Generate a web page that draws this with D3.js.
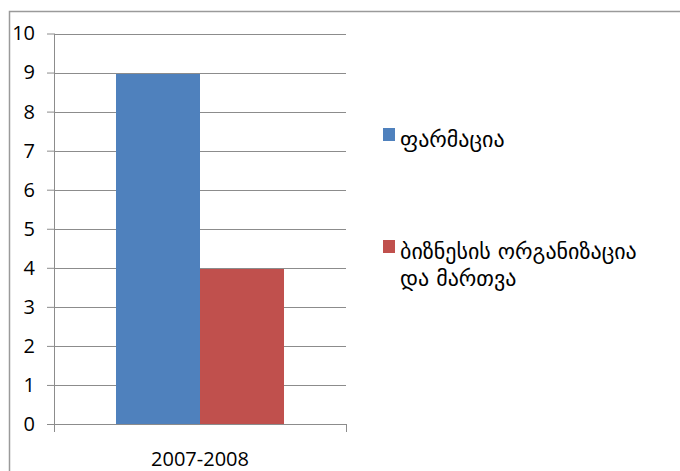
<!DOCTYPE html>
<html>
<head>
<meta charset="utf-8">
<script src="https://cdn.jsdelivr.net/npm/d3@7"></script>
<style>
  body { margin: 0; background: #fff; }
  svg { display: block; }
</style>
</head>
<body>
<div id="chart"></div>
<script>
// Chart data
const categories = ['2007-2008'];
const seriesNames = ['ფარმაცია', 'ბიზნესის ორგანიზაცია და მართვა'];
const seriesLabelLines = [['ფარმაცია'], ['ბიზნესის ორგანიზაცია', 'და მართვა']];
const seriesValues = [[9], [4]];
const seriesColors = ['#4F81BD', '#C0504D'];
const yTicks = [0, 1, 2, 3, 4, 5, 6, 7, 8, 9, 10];

const width = 680;
const height = 471;
const plot = { left: 54, right: 346, top: 33.5, bottom: 424 };

const svg = d3.select('#chart')
  .append('svg')
  .attr('width', width)
  .attr('height', height);

// Outer chart frame (only top and left are visible in the crop)
svg.append('path')
  .attr('d', `M9.5,${height}V11.5H${width}`)
  .attr('fill', 'none')
  .attr('stroke', '#9a9a9a')
  .attr('stroke-width', 1.5);

const y = d3.scaleLinear()
  .domain([0, 10])
  .range([plot.bottom, plot.top]);

const x0 = d3.scaleBand()
  .domain(categories)
  .range([plot.left, plot.right])
  .paddingInner(0)
  .paddingOuter(0.369);

const x1 = d3.scaleBand()
  .domain(d3.range(seriesNames.length))
  .range([0, x0.bandwidth()]);

// Gridlines
svg.append('g')
  .selectAll('line')
  .data(yTicks)
  .enter()
  .append('line')
  .attr('x1', plot.left)
  .attr('x2', plot.right)
  .attr('y1', d => Math.round(y(d)) + 0.5)
  .attr('y2', d => Math.round(y(d)) + 0.5)
  .attr('stroke', '#8c8c8c')
  .attr('stroke-width', 1);

// Bars
categories.forEach((cat, ci) => {
  seriesValues.forEach((vals, si) => {
    svg.append('rect')
      .attr('x', x0(cat) + x1(si))
      .attr('y', Math.round(y(vals[ci])) + 1)
      .attr('width', x1.bandwidth())
      .attr('height', y(0) - Math.round(y(vals[ci])) - 1)
      .attr('fill', seriesColors[si]);
  });
});

// Y axis
const yAxis = svg.append('g')
  .attr('transform', `translate(${plot.left},0)`)
  .call(d3.axisLeft(y).tickValues(yTicks).tickSize(7).tickPadding(12).tickSizeOuter(0));
yAxis.select('.domain').remove();
yAxis.selectAll('.tick line').attr('stroke', '#8c8c8c');
yAxis.selectAll('.tick text')
  .attr('font-family', '"Open Sans", sans-serif')
  .attr('font-size', 20)
  .attr('fill', '#000');

svg.append('line')
  .attr('x1', plot.left + 0.5).attr('x2', plot.left + 0.5)
  .attr('y1', plot.top).attr('y2', plot.bottom + 8)
  .attr('stroke', '#8c8c8c');

// X axis
const xAxis = svg.append('g')
  .attr('transform', `translate(0,${plot.bottom})`);
xAxis.append('line')
  .attr('x1', plot.left).attr('x2', plot.right)
  .attr('y1', 0.5).attr('y2', 0.5)
  .attr('stroke', '#8c8c8c');
[plot.left, plot.right].forEach(px => {
  xAxis.append('line')
    .attr('x1', px + 0.5).attr('x2', px + 0.5)
    .attr('y1', 0).attr('y2', 8)
    .attr('stroke', '#8c8c8c');
});
xAxis.selectAll('text.cat')
  .data(categories)
  .enter()
  .append('text')
  .attr('class', 'cat')
  .attr('x', d => x0(d) + x0.bandwidth() / 2)
  .attr('y', 42)
  .attr('text-anchor', 'middle')
  .attr('font-family', '"Open Sans", sans-serif')
  .attr('font-size', 20)
  .attr('fill', '#000')
  .text(d => d);

// Legend
const legendY = [128, 240];
const legend = svg.append('g');
seriesNames.forEach((name, i) => {
  legend.append('rect')
    .attr('x', 383)
    .attr('y', legendY[i])
    .attr('width', 12)
    .attr('height', 13)
    .attr('fill', seriesColors[i]);
  const t = legend.append('text')
    .attr('font-family', '"DejaVu Sans", sans-serif')
    .attr('font-size', 22)
    .attr('fill', '#000');
  seriesLabelLines[i].forEach((line, li) => {
    t.append('tspan')
      .attr('x', 400)
      .attr('y', legendY[i] + 19 + li * 27)
      .text(line);
  });
});
</script>
</body>
</html>
